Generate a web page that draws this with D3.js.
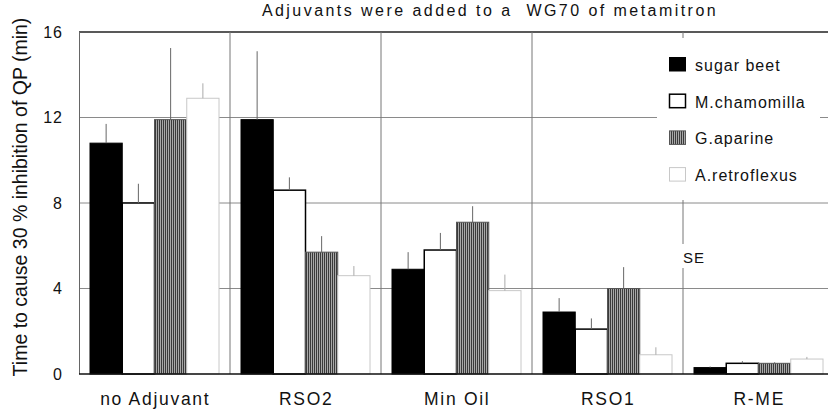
<!DOCTYPE html>
<html><head><meta charset="utf-8">
<script src="https://cdn.jsdelivr.net/npm/d3@7"></script>
<style>
html,body{margin:0;padding:0;background:#fff;}
svg{display:block;font-family:Arial,"Liberation Sans",Helvetica,sans-serif;}
</style></head>
<body><svg id="c" width="828" height="409"></svg>
<script>
const title = "Adjuvants were added to a  WG70 of metamitron";
const yTitle = "Time to cause 30 % inhibition of QP (min)";
const categories = ["no Adjuvant", "RSO2", "Min Oil", "RSO1", "R-ME"];
const seriesNames = ["sugar beet", "M.chamomilla", "G.aparine", "A.retroflexus"];
const sugarBeet     = [10.8, 11.9, 4.9, 2.9, 0.3];
const sugarBeetSE   = [0.9, 3.2, 0.8, 0.65, 0.05];
const chamomilla    = [8.0, 8.6, 5.8, 2.1, 0.5];
const chamomillaSE  = [0.9, 0.6, 0.8, 0.5, 0.1];
const aparine       = [11.9, 5.7, 7.1, 4.0, 0.5];
const aparineSE     = [3.35, 0.75, 0.75, 1.0, 0.05];
const retroflexus   = [12.9, 4.6, 3.9, 0.9, 0.7];
const retroflexusSE = [0.7, 0.45, 0.75, 0.35, 0.1];
const yTicks = [0, 4, 8, 12, 16];
const seLabel = "SE";

const values = [sugarBeet, chamomilla, aparine, retroflexus];
const errors = [sugarBeetSE, chamomillaSE, aparineSE, retroflexusSE];

const svg = d3.select("#c");
const L = 79, R = 834, T = 32, B = 374;

const x0 = d3.scaleBand().domain(categories).range([L, R]).padding(0);
const x1 = d3.scaleBand().domain(seriesNames).range([11, x0.bandwidth() - 11]).padding(0);
const y = d3.scaleLinear().domain([0, 16]).range([B, T]);

const defs = svg.append("defs");
const pat = defs.append("pattern").attr("id", "stripes").attr("patternUnits", "userSpaceOnUse")
  .attr("width", 2).attr("height", 4);
pat.append("rect").attr("width", 2).attr("height", 4).attr("fill", "#a8a8a8");
pat.append("rect").attr("width", 1).attr("height", 4).attr("fill", "#3a3a3a");

const fills = ["#000", "#fff", "url(#stripes)", "#fff"];
const strokes = ["#000", "#000", "#555", "#c8c8c8"];
const strokeW = [1, 1.5, 1, 1];

// horizontal gridlines
svg.append("g").selectAll("line").data(yTicks.filter(d => d > 0)).join("line")
  .attr("x1", L).attr("x2", R).attr("y1", d => y(d)).attr("y2", d => y(d))
  .attr("stroke", d => d === 16 ? "#222" : "#8a8a8a").attr("stroke-width", d => d === 16 ? 1.3 : 1);

// vertical separators
svg.append("g").selectAll("line").data(categories.slice(1)).join("line")
  .attr("x1", d => x0(d)).attr("x2", d => x0(d)).attr("y1", T).attr("y2", B)
  .attr("stroke", "#777").attr("stroke-width", 1);

// left axis line
svg.append("line").attr("x1", L + 0.5).attr("x2", L + 0.5).attr("y1", T).attr("y2", B).attr("stroke", "#666");

// legend background
svg.append("rect").attr("x", 657).attr("y", 38).attr("width", 163).attr("height", 162).attr("fill", "#fff");
svg.append("rect").attr("x", 678).attr("y", 244).attr("width", 28).attr("height", 24).attr("fill", "#fff");

// bars
const groups = svg.append("g").selectAll("g").data(categories).join("g")
  .attr("transform", d => `translate(${x0(d)},0)`);
seriesNames.forEach((s, si) => {
  groups.append("rect")
    .attr("x", x1(s)).attr("width", x1.bandwidth())
    .attr("y", (d, i) => y(values[si][i])).attr("height", (d, i) => B - y(values[si][i]))
    .attr("fill", fills[si]).attr("stroke", strokes[si]).attr("stroke-width", strokeW[si]);
  groups.append("line")
    .attr("x1", x1(s) + x1.bandwidth() / 2).attr("x2", x1(s) + x1.bandwidth() / 2)
    .attr("y1", (d, i) => y(values[si][i])).attr("y2", (d, i) => y(values[si][i] + errors[si][i]))
    .attr("stroke", si === 3 ? "#aaa" : "#666").attr("stroke-width", 1);
});

// bottom axis line
svg.append("line").attr("x1", L).attr("x2", R).attr("y1", B).attr("y2", B).attr("stroke", "#111").attr("stroke-width", 1.5);

// y tick labels
svg.append("g").selectAll("text").data(yTicks).join("text")
  .attr("x", 63).attr("y", d => y(d)).attr("dy", "0.36em").attr("text-anchor", "end")
  .attr("font-size", 16).attr("letter-spacing", 1).attr("fill", "#111").text(d => d);

// x labels
svg.append("g").selectAll("text").data(categories).join("text")
  .attr("x", d => x0(d) + x0.bandwidth() / 2 + 0.75).attr("y", 404.5).attr("text-anchor", "middle")
  .attr("font-size", 17.5).attr("letter-spacing", 1.7).attr("fill", "#111").text(d => d);

// title
svg.append("text").attr("x", 490).attr("y", 16).attr("text-anchor", "middle")
  .style("white-space", "pre")
  .attr("font-size", 16).attr("letter-spacing", 2.45).attr("fill", "#111").text(title);

// y title
svg.append("text").attr("transform", "translate(27,197) rotate(-90)").attr("text-anchor", "middle")
  .attr("font-size", 19.5).attr("fill", "#111").text(yTitle);

// legend
const lg = svg.append("g").selectAll("g").data(seriesNames).join("g")
  .attr("transform", (d, i) => `translate(669,${57 + i * 36.7})`);
lg.append("rect").attr("x", 0.5).attr("y", 0.5).attr("width", 16).attr("height", 13.5)
  .attr("fill", (d, i) => fills[i]).attr("stroke", (d, i) => strokes[i]).attr("stroke-width", (d, i) => strokeW[i]);
lg.append("text").attr("x", 26).attr("y", 14).attr("font-size", 16).attr("letter-spacing", 1)
  .attr("fill", "#111").text(d => d);

svg.append("text").attr("x", 683).attr("y", 263).attr("font-size", 15).attr("letter-spacing", 1)
  .attr("fill", "#111").text(seLabel);
</script></body></html>
